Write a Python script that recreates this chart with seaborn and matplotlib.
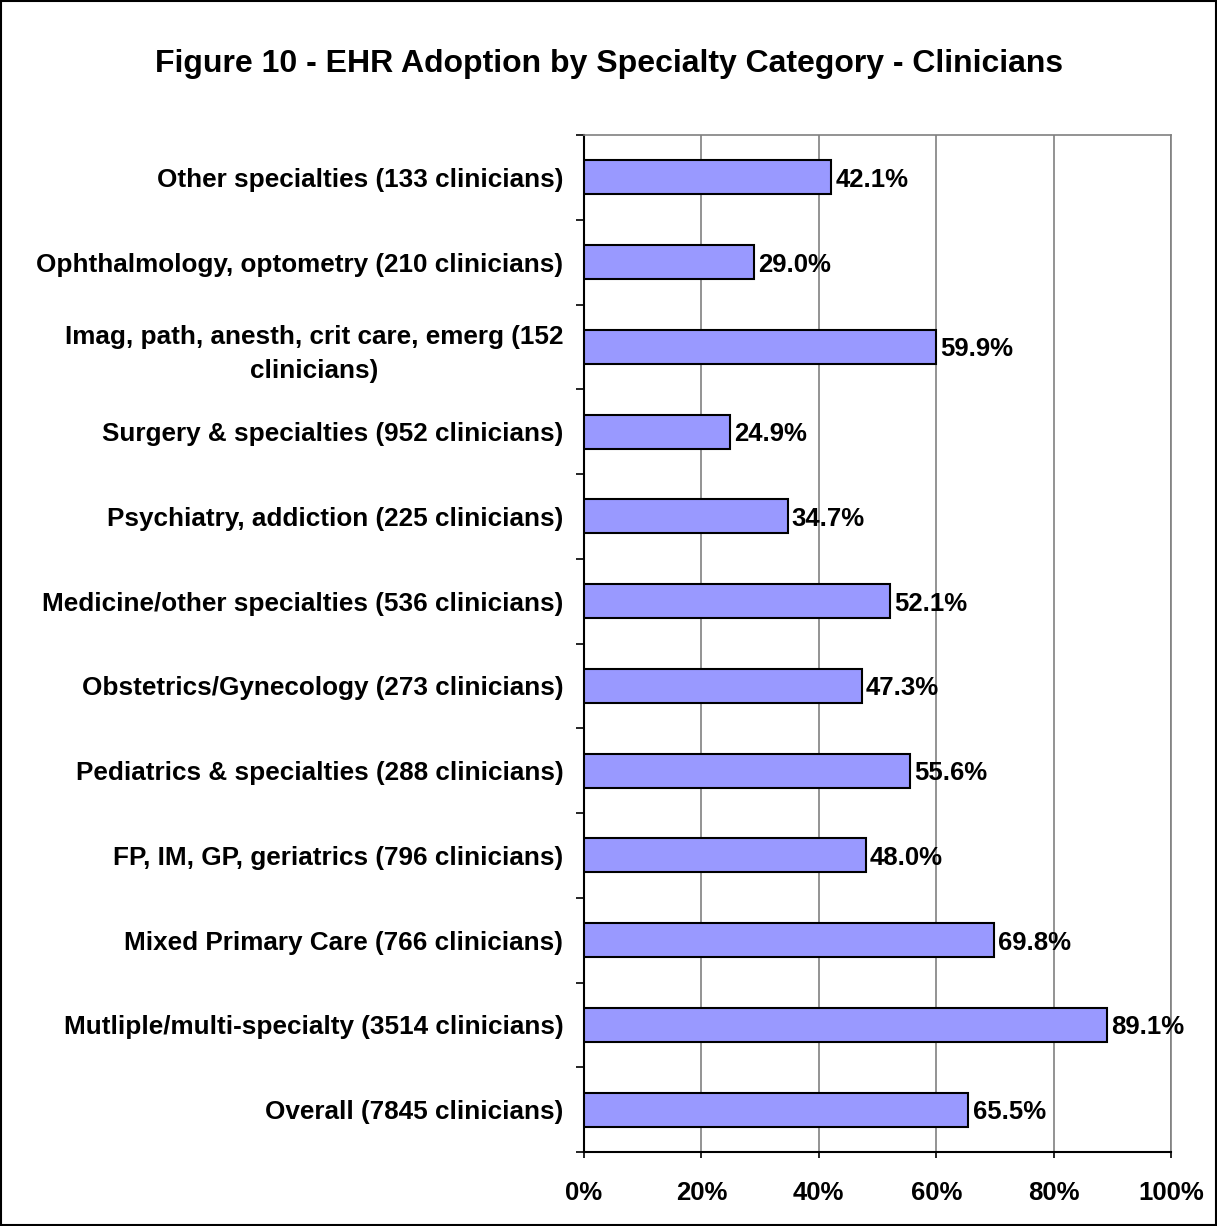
import matplotlib
matplotlib.use("Agg")
import matplotlib.pyplot as plt
import seaborn as sns
import pandas as pd
from matplotlib.ticker import FixedLocator, PercentFormatter

categories = [
    "Other specialties (133 clinicians)",
    "Ophthalmology, optometry (210 clinicians)",
    "Imag, path, anesth, crit care, emerg (152\nclinicians)",
    "Surgery & specialties (952 clinicians)",
    "Psychiatry, addiction (225 clinicians)",
    "Medicine/other specialties (536 clinicians)",
    "Obstetrics/Gynecology (273 clinicians)",
    "Pediatrics & specialties (288 clinicians)",
    "FP, IM, GP, geriatrics (796 clinicians)",
    "Mixed Primary Care (766 clinicians)",
    "Mutliple/multi-specialty (3514 clinicians)",
    "Overall (7845 clinicians)",
]
adoption = [42.1, 29.0, 59.9, 24.9, 34.7, 52.1, 47.3, 55.6, 48.0, 69.8, 89.1, 65.5]

df = pd.DataFrame({"category": categories, "adoption": adoption})

sns.set_style("ticks")
plt.rcParams["font.family"] = ["Liberation Sans", "DejaVu Sans"]
plt.rcParams["font.weight"] = "bold"
plt.rcParams["text.color"] = "black"
plt.rcParams["xtick.color"] = "black"
plt.rcParams["ytick.color"] = "black"

fig = plt.figure(figsize=(12.17, 12.26), dpi=100)
ax = fig.add_axes([584 / 1217, 1 - 1152 / 1226, (1171 - 584) / 1217, (1152 - 135) / 1226])

sns.barplot(data=df, x="adoption", y="category", color="#9999ff", width=0.4,
            edgecolor="black", linewidth=1.5, saturation=1, ax=ax, zorder=3)

for i, v in enumerate(adoption):
    ax.text(v + 0.7, i + 0.03, f"{v:.1f}%", va="center", ha="left", fontsize=18.5,
            fontweight="bold", color="black", zorder=4)

ax.set_xlim(0, 100)
ax.set_ylim(len(categories) - 0.5, -0.5)
ax.xaxis.set_major_locator(FixedLocator([0, 20, 40, 60, 80, 100]))
ax.xaxis.set_major_formatter(PercentFormatter(decimals=0))
ax.grid(axis="x", color="#808080", linewidth=1.2, zorder=0)
ax.set_xlabel("")
ax.set_ylabel("")

ax.set_yticks(range(len(categories)))
ax.set_yticklabels(categories, fontsize=18.8, fontweight="bold", color="black",
                   multialignment="center", linespacing=1.5)
ax.tick_params(axis="y", which="major", left=False, length=0, pad=15)
ax.set_yticks([i - 0.5 for i in range(len(categories) + 1)], minor=True)
ax.tick_params(axis="y", which="minor", left=True, length=6, width=1.2, color="black", direction="out")
ax.tick_params(axis="x", which="major", bottom=True, length=4, width=1.2, color="black",
               direction="out", labelsize=18.5, pad=17)
for lbl in ax.get_xticklabels():
    lbl.set_fontweight("bold")
    lbl.set_color("black")

for side in ["left", "bottom"]:
    ax.spines[side].set_visible(True)
    ax.spines[side].set_color("black")
    ax.spines[side].set_linewidth(1.5)
for side in ["top", "right"]:
    ax.spines[side].set_visible(True)
    ax.spines[side].set_color("#808080")
    ax.spines[side].set_linewidth(1.2)

fig.text(609 / 1217, 1 - 64 / 1226, "Figure 10 - EHR Adoption by Specialty Category - Clinicians",
         ha="center", va="center", fontsize=23, fontweight="bold", color="black")

border = plt.Rectangle((0.0005, 0.0005), 0.999, 0.999, transform=fig.transFigure,
                       fill=False, edgecolor="black", linewidth=1.5)
fig.patches.append(border)

fig.savefig("out.png", dpi=100)
